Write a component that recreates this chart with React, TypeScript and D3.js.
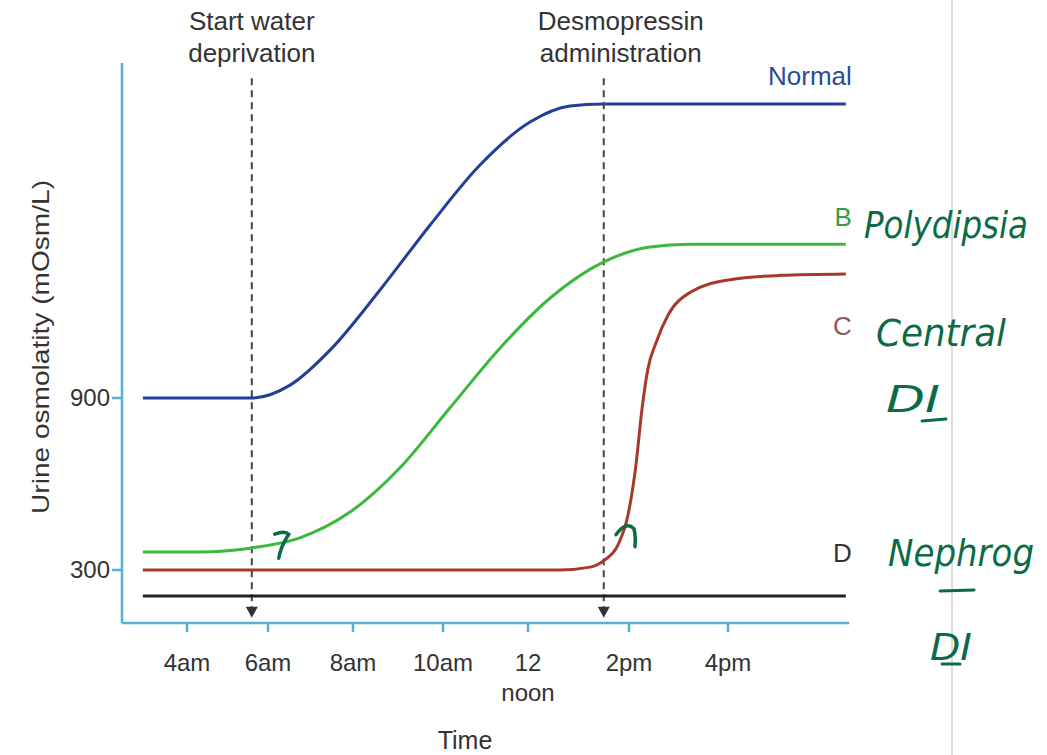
import React from "react";
import * as d3 from "d3";

// ---- data (hours of day, urine osmolality mOsm/L) ----
const hourTicks = [4, 6, 8, 10, 12, 14, 16];
const hourTickLabels = [["4am"], ["6am"], ["8am"], ["10am"], ["12", "noon"], ["2pm"], ["4pm"]];
const yTickValues = [300, 900];

const normalHours = [2.91, 5.6, 6.52, 7.46, 8.6, 9.71, 10.87, 12.04, 12.83, 13.49, 18.38];
const normalValues = [900, 900, 945, 1067, 1277, 1503, 1713, 1863, 1919, 1926, 1926];

const bHours = [2.91, 4.32, 5.6, 6.75, 7.93, 9.04, 10.16, 11.34, 12.44, 13.49, 14.42, 15.23, 18.38];
const bValues = [363, 363, 377, 412, 502, 656, 865, 1074, 1249, 1374, 1427, 1437, 1437];

const cHours = [2.91, 12.63, 13.23, 13.52, 13.78, 13.98, 14.14, 14.26, 14.38, 14.55, 14.79, 15.23, 16.04, 17.05, 18.38];
const cValues = [300, 300, 310, 335, 387, 492, 666, 858, 1000, 1095, 1190, 1268, 1313, 1328, 1333];

const dHours = [2.91, 18.38];
const dValues = [209, 209];

const eventHours = [5.6, 13.5];
const eventLabels = [["Start water", "deprivation"], ["Desmopressin", "administration"]];
const eventTop = 2016;
const eventBottom = 133;

const seriesNames = ["Normal", "B", "C", "D"];
const seriesColors = ["#233f97", "#3cb83c", "#a8392a", "#222222"];
const labelColors = ["#2c4a9a", "#3a9a45", "#8a5a55", "#333333"];
const labelValues = [1992, 1500, 1120, 328];

const notes = [
  { text: "Polydipsia", x: 864, y: 238, w: 164 },
  { text: "Central", x: 876, y: 346, w: 130 },
  { text: "DI", x: 886, y: 412, w: 54 },
  { text: "Nephrog", x: 888, y: 566, w: 146 },
  { text: "DI", x: 930, y: 660, w: 42 },
];

const FONT = "'Liberation Sans', Arial, Helvetica, sans-serif";
const AXIS = "#58b1d0";
const TEXT = "#333333";
const NOTE = "#0b6b45";

export default function App() {
  const W = 1047, H = 755;
  const x = d3.scaleLinear().domain(hourTicks).range([187, 268, 353, 443, 528, 629, 728]);
  const y = d3.scaleLinear().domain([115, 2069]).range([623, 63]);
  const axisLeft = 122;
  const axisBottom = y(115);

  const line = d3.line<[number, number]>().x(d => x(d[0])).y(d => y(d[1])).curve(d3.curveMonotoneX);
  const allSeries = [
    d3.zip(normalHours, normalValues),
    d3.zip(bHours, bValues),
    d3.zip(cHours, cValues),
    d3.zip(dHours, dValues),
  ] as [number, number][][];

  const xEnd = x(18.38);

  const hook1 = d3.path();
  {
    const px = x(6.3), py = y(390);
    hook1.moveTo(px - 6, py - 10);
    hook1.quadraticCurveTo(px + 4, py - 14, px + 8, py - 10);
    hook1.quadraticCurveTo(px, py + 2, px - 2, py + 14);
  }
  const hook2 = d3.path();
  {
    const px = x(13.9), py = y(430);
    hook2.moveTo(px - 8, py + 2);
    hook2.quadraticCurveTo(px + 2, py - 12, px + 10, py - 4);
    hook2.quadraticCurveTo(px + 12, py + 4, px + 11, py + 14);
  }

  return (
    <svg width={W} height={H} style={{ position: "absolute", left: 0, top: 0, background: "#fff" }} fontFamily={FONT}>
      <line x1={952} x2={952} y1={0} y2={H} stroke="#d2d2d2" strokeWidth={1.5} />

      {/* axes */}
      <line x1={axisLeft} x2={axisLeft} y1={y(2069)} y2={axisBottom} stroke={AXIS} strokeWidth={2.5} />
      <line x1={axisLeft} x2={x(18.45)} y1={axisBottom} y2={axisBottom} stroke={AXIS} strokeWidth={2.5} />
      {hourTicks.map((h, i) => (
        <g key={h}>
          <line x1={x(h)} x2={x(h)} y1={axisBottom} y2={axisBottom + 9} stroke={AXIS} strokeWidth={2.5} />
          {hourTickLabels[i].map((t, j) => (
            <text key={j} x={x(h)} y={axisBottom + 48 + j * 30} textAnchor="middle" fontSize={24} fill={TEXT}>{t}</text>
          ))}
        </g>
      ))}
      {yTickValues.map(v => (
        <g key={v}>
          <line x1={axisLeft - 10} x2={axisLeft} y1={y(v)} y2={y(v)} stroke={AXIS} strokeWidth={2.5} />
          <text x={axisLeft - 12} y={y(v) + 8} textAnchor="end" fontSize={24} fill={TEXT}>{v}</text>
        </g>
      ))}
      <text x={465} y={749} textAnchor="middle" fontSize={25} fill={TEXT}>Time</text>
      <text transform={`translate(49,347) rotate(-90)`} textAnchor="middle" fontSize={24} fill={TEXT}
        textLength={334} lengthAdjust="spacingAndGlyphs">
        Urine osmolatity (mOsm/L)
      </text>

      {/* event markers */}
      {eventHours.map((h, i) => (
        <g key={h}>
          <line x1={x(h)} x2={x(h)} y1={y(eventTop)} y2={y(eventBottom) - 8} stroke="#444" strokeWidth={2} strokeDasharray="7,5" />
          <path d={`M${x(h) - 6},${y(eventBottom) - 11} L${x(h) + 6},${y(eventBottom) - 11} L${x(h)},${y(eventBottom)} Z`} fill="#333" />
          {eventLabels[i].map((t, j) => (
            <text key={j} x={x(h) + (i === 0 ? 0 : 17)} y={30 + j * 32} textAnchor="middle" fontSize={26} fill={TEXT}>{t}</text>
          ))}
        </g>
      ))}

      {/* series */}
      {allSeries.map((s, i) => (
        <path key={i} d={line(s) || ""} fill="none" stroke={seriesColors[i]} strokeWidth={3} />
      ))}
      {seriesNames.map((n, i) => (
        <text key={n} x={xEnd + 6} y={y(labelValues[i])} textAnchor="end" fontSize={26} fill={labelColors[i]}>{n}</text>
      ))}

      {/* handwritten notes */}
      {notes.map((n, i) => (
        <text key={i} x={n.x} y={n.y} fontSize={38} fontStyle="italic" fontFamily="'DejaVu Sans', sans-serif"
          fill={NOTE} textLength={n.w} lengthAdjust="spacingAndGlyphs">{n.text}</text>
      ))}
      <line x1={922} x2={946} y1={421} y2={419} stroke={NOTE} strokeWidth={3} strokeLinecap="round" />
      <line x1={940} x2={974} y1={591} y2={590} stroke={NOTE} strokeWidth={3} strokeLinecap="round" />
      <line x1={942} x2={960} y1={664} y2={664} stroke={NOTE} strokeWidth={3} strokeLinecap="round" />
      <path d={hook1.toString()} fill="none" stroke={NOTE} strokeWidth={3.5} strokeLinecap="round" />
      <path d={hook2.toString()} fill="none" stroke={NOTE} strokeWidth={3.5} strokeLinecap="round" />
    </svg>
  );
}
